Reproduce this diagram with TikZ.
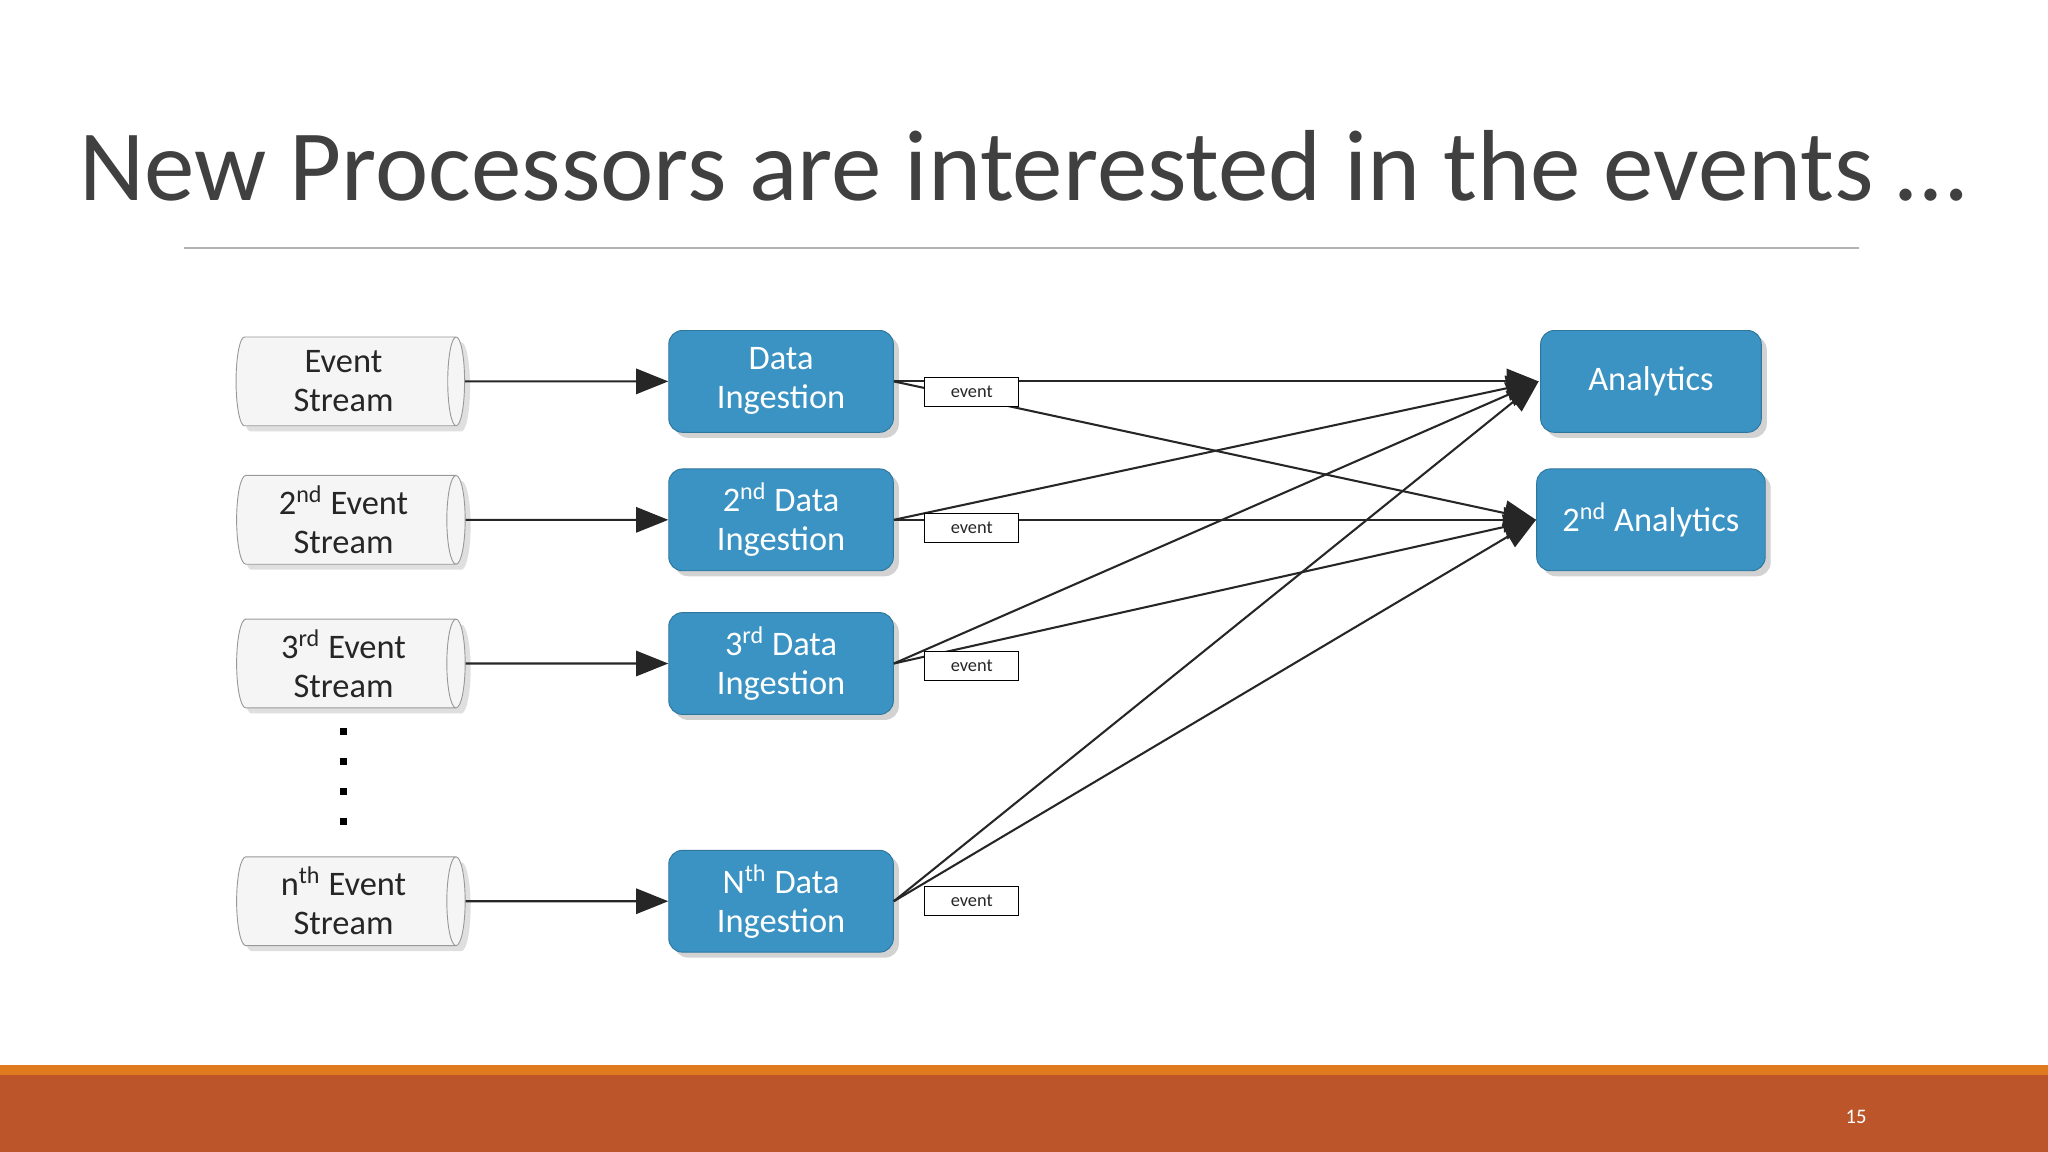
\documentclass[tikz,border=0pt]{standalone}
\usepackage{fontspec}
\setmainfont{Carlito}
\usetikzlibrary{shapes.geometric,arrows.meta,shadows}
\definecolor{boxblue}{HTML}{3A93C3}
\definecolor{barA}{HTML}{E07A1F}
\definecolor{barB}{HTML}{BC5529}
\definecolor{titlegray}{HTML}{404040}
\begin{document}
\begin{tikzpicture}[x=0.02cm,y=-0.02cm,
  cyl/.style={cylinder,draw=gray!80,fill=gray!8,minimum width=1.36cm,minimum height=3.5cm,aspect=0.22,shape border rotate=0,text=gray!30!black,font=\fontsize{15}{17}\selectfont,align=center,drop shadow={opacity=0.25}},
  proc/.style={rounded corners=6pt,fill=boxblue,draw=boxblue!80!black,text=white,font=\fontsize{15}{17}\selectfont,align=center,minimum height=1.56cm,drop shadow={opacity=0.35}},
  ev/.style={draw,fill=white,font=\fontsize{8}{9}\selectfont,minimum width=1.44cm,minimum height=0.44cm,inner sep=0pt,text=gray!30!black},
  conn/.style={draw=black!85,line width=0.9pt,-{Triangle[length=14pt,width=11pt]}},
  ln/.style={draw=black!85,line width=0.8pt}]
\useasboundingbox (0,0) rectangle (1568,882);
\fill[white] (0,0) rectangle (1568,882);
\node[text=titlegray,font=\fontsize{44}{50}\selectfont] (title) at (783,127) {New Processors are interested in the events \dots};
\draw[gray!60,line width=0.8pt] (141,190) -- (1423,190);
\fill[barA] (0,815) rectangle (1568,823);
\fill[barB] (0,823) rectangle (1568,882);
\node[text=white,font=\fontsize{9}{10}\selectfont] (pg) at (1421,855) {15};
% cylinders
\node[cyl] (c1) at (263,292) {Event\\Stream};
\node[cyl] (c2) at (263,398) {2\textsuperscript{nd} Event\\Stream};
\node[cyl] (c3) at (263,508) {3\textsuperscript{rd} Event\\Stream};
\node[cyl] (c4) at (263,690) {n\textsuperscript{th} Event\\Stream};
\foreach \y in {560,583,606,629} \fill (260,\y-3) rectangle (266,\y+3);
% processors
\node[proc,minimum width=3.44cm] (d1) at (598,292) {Data\\Ingestion};
\node[proc,minimum width=3.44cm] (d2) at (598,398) {2\textsuperscript{nd} Data\\Ingestion};
\node[proc,minimum width=3.44cm] (d3) at (598,508) {3\textsuperscript{rd} Data\\Ingestion};
\node[proc,minimum width=3.44cm] (d4) at (598,690) {N\textsuperscript{th} Data\\Ingestion};
\node[proc,minimum width=3.38cm] (a1) at (1264,292) {Analytics};
\node[proc,minimum width=3.5cm] (a2) at (1264,398) {2\textsuperscript{nd} Analytics};
\foreach \i in {1,2,3,4} \draw[conn] (c\i.east) -- (d\i.west);
\coordinate (t1) at (1178,292);
\coordinate (t2) at (1176,398);
\foreach \i in {1,2,3,4} {
  \draw[conn] (d\i.east) -- (t1);
  \draw[conn] (d\i.east) -- (t2);
}
\node[ev] (e1) at (744,300) {event};
\node[ev] (e2) at (744,404) {event};
\node[ev] (e3) at (744,510) {event};
\node[ev] (e4) at (744,690) {event};
\end{tikzpicture}
\end{document}
